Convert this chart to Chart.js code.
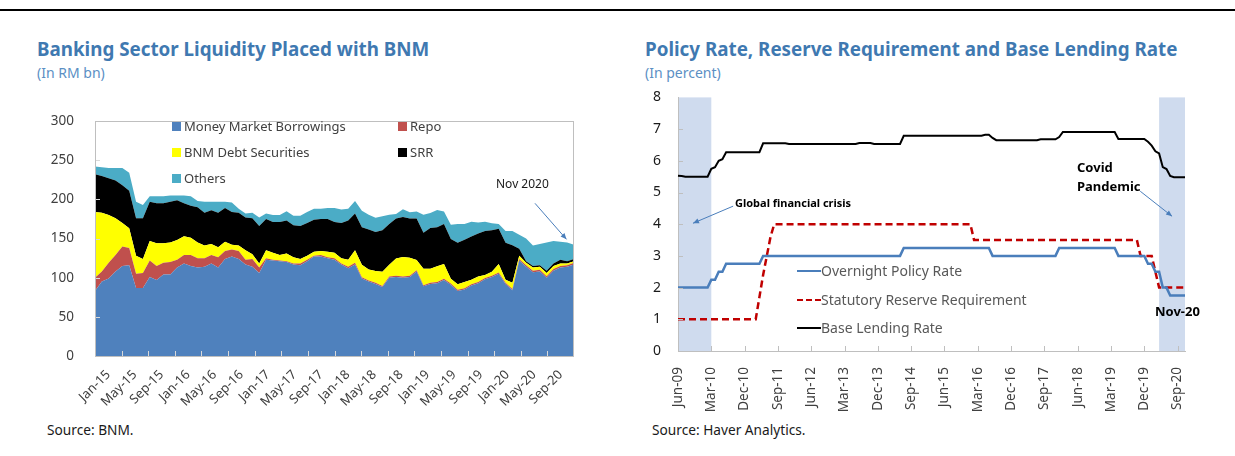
<!DOCTYPE html>
<html><head><meta charset="utf-8">
<script src="https://cdn.jsdelivr.net/npm/chart.js@4.4.1/dist/chart.umd.min.js"></script>
<style>
body{margin:0;width:1235px;height:456px;position:relative;background:#fff;font-family:'Noto Sans',sans-serif;overflow:hidden}
.abs{position:absolute;white-space:nowrap}
.title{font-weight:bold;font-size:18.8px;line-height:22px;color:#3f79b1}
.sub{font-size:14px;line-height:16px;color:#5b8fc4}
.src{font-size:13.7px;line-height:16px;color:#1a1a1a}
.lg{font-size:13px;line-height:16px;color:#404040}
.lgr{font-size:14px;line-height:18px;color:#595959}
.sq{position:absolute;width:9px;height:9px}
.ann{font-weight:bold;color:#000}
canvas{position:absolute}
</style></head>
<body>
<div class="abs" style="left:0;top:9px;width:1235px;height:2px;background:#000"></div>

<div class="abs title" style="left:37px;top:38px">Banking Sector Liquidity Placed with BNM</div>
<div class="abs sub" style="left:37px;top:65px">(In RM bn)</div>
<div class="abs title" style="left:645px;top:38px">Policy Rate, Reserve Requirement and Base Lending Rate</div>
<div class="abs sub" style="left:645px;top:65px">(In percent)</div>

<canvas id="cL" width="600" height="320" style="left:0;top:100px;width:600px;height:320px"></canvas>
<canvas id="cR" width="625" height="340" style="left:610px;top:80px;width:625px;height:340px"></canvas>

<!-- left legend -->
<div class="sq" style="left:172px;top:122px;background:#4f81bd"></div>
<div class="abs lg" style="left:184px;top:118px">Money Market Borrowings</div>
<div class="sq" style="left:398px;top:122px;background:#c0504d"></div>
<div class="abs lg" style="left:410px;top:118px">Repo</div>
<div class="sq" style="left:172px;top:148px;background:#ffff00"></div>
<div class="abs lg" style="left:184px;top:144px">BNM Debt Securities</div>
<div class="sq" style="left:398px;top:148px;background:#000"></div>
<div class="abs lg" style="left:410px;top:144px">SRR</div>
<div class="sq" style="left:172px;top:174px;background:#4bacc6"></div>
<div class="abs lg" style="left:184px;top:170px">Others</div>
<div class="abs" style="left:496px;top:176px;font-size:12px;line-height:16px;color:#1a1a1a">Nov 2020</div>

<!-- right legend -->
<div class="abs" style="left:797px;top:270px;width:24px;height:0;border-top:2.5px solid #4a7ebb"></div>
<div class="abs lgr" style="left:821px;top:262px">Overnight Policy Rate</div>
<div class="abs" style="left:797px;top:299px;width:24px;height:0;border-top:2.5px dashed #c00000"></div>
<div class="abs lgr" style="left:821px;top:291px">Statutory Reserve Requirement</div>
<div class="abs" style="left:797px;top:327px;width:24px;height:0;border-top:2.5px solid #000"></div>
<div class="abs lgr" style="left:821px;top:319px">Base Lending Rate</div>

<div class="abs ann" style="left:735px;top:195px;font-size:11px;line-height:16px">Global financial crisis</div>
<div class="abs ann" style="left:1077px;top:158px;font-size:13px;line-height:18px">Covid</div>
<div class="abs ann" style="left:1077px;top:177px;font-size:13px;line-height:18px">Pandemic</div>
<div class="abs ann" style="left:1155px;top:302px;font-size:13px;line-height:18px">Nov-20</div>

<div class="abs src" style="left:47px;top:422px">Source: BNM.</div>
<div class="abs src" style="left:652px;top:422px">Source: Haver Analytics.</div>

<script>
const MON = ['Jan','Feb','Mar','Apr','May','Jun','Jul','Aug','Sep','Oct','Nov','Dec'];
function monthLabels(m0, y0, m1, y1){
  const out=[]; let m=m0, y=y0;
  while(y<y1 || (y===y1 && m<=m1)){ out.push(MON[m]+'-'+String(y%100).padStart(2,'0')); m++; if(m>11){m=0;y++;} }
  return out;
}

// ---------- Left chart: Banking sector liquidity (RM bn), Jan-15 .. Nov-20 ----------
const liqMonths = monthLabels(0,2015,10,2020);
const liqTickLabels = ['Jan-15','May-15','Sep-15','Jan-16','May-16','Sep-16','Jan-17','May-17','Sep-17',
  'Jan-18','May-18','Sep-18','Jan-19','May-19','Sep-19','Jan-20','May-20','Sep-20'];
const moneyMarket = [83,95,99,108,115,116,87,87,101,97,104,104,113,118,115,113,114,118,113,124,127,124,117,
  114,106,123,122,121,120,117,116,121,127,127,125,123,117,112,117,99,95,92,88,100,101,100,101,
  108,89,92,93,97,91,83,85,90,93,98,101,105,92,84,122,114,107,108,100,109,113,114,117];
const repo = [17,13,20,21,25,22,18,19,21,18,15,16,10,11,14,12,11,11,13,10,9,10,6,
  10,7,2,1,1,1,1,2,2,1,2,1,2,1,2,2,1.5,1.5,1.5,1.5,1.5,1.5,1.5,1.5,
  1.5,1.5,1.5,1.5,1.5,1.5,1.5,1.5,1.5,1.5,1.5,1.5,1.5,1.5,1.5,2,2,2,2,2,2,2,2,2];
const bnmDebt = [84,75,61,47,30,25,23,18,25,29,25,25,25,24,22,20,16,14,13,12,6,7,12,
  6,5,10,9,7,10,8,6,5,5,5,7,7,7,9,16,16,14,15,18,15,22,25,23,
  13,21,18,20,19,6,7,8,6,7,4,5,11,4,8,4,3,4,4,4,4,3,2,2];
const srrBal = [48,47,47,48,48,48,48,52,50,51,51,52,51,42,41,45,42,43,44,43,42,42,42,
  46,48,40,39,42,42,41,42,42,41,41,42,39,45,50,47,48,51,50,53,52,51,51,50,
  53,46,52,50,51,51,53,54,55,55,56,53,45,47,48,9,2,2,2,3,3,5,3,3];
const others = [10,11,13,16,22,23,21,17,7,9,9,8,6,10,12,8,14,11,14,8,12,5,5,
  7,11,7,9,9,12,12,13,14,14,13,14,18,17,15,16,21,19,18,18,12,6,10,8,
  9,23,19,22,16,18,24,20,19,14,12,9,6,15,18,18,29,26,27,36,29,23,24,18];
const liqArrow = {from:[64.3,195], to:[68.9,149]};

// ---------- Right chart: rates (%), Jun-09 .. Nov-20 ----------
const rateMonths = monthLabels(5,2009,10,2020);
const rateTickLabels = ['Jun-09','Mar-10','Dec-10','Sep-11','Jun-12','Mar-13','Dec-13','Sep-14','Jun-15',
  'Mar-16','Dec-16','Sep-17','Jun-18','Mar-19','Dec-19','Sep-20'];
const opr = [2,2,2,2,2,2,2,2,2, 2.25,2.25, 2.5,2.5,
  2.75,2.75,2.75,2.75,2.75,2.75,2.75,2.75,2.75,2.75,
  3,3,3,3,3,3,3,3,3,3,3,3,3,3,3,3,3,3,3,3,3,3,3,3,3,3,3,3,3,3,3,3,3,3,3,3,3,3,
  3.25,3.25,3.25,3.25,3.25,3.25,3.25,3.25,3.25,3.25,3.25,3.25,3.25,3.25,3.25,3.25,3.25,3.25,3.25,3.25,3.25,3.25,3.25,3.25,
  3,3,3,3,3,3,3,3,3,3,3,3,3,3,3,3,3,3,
  3.25,3.25,3.25,3.25,3.25,3.25,3.25,3.25,3.25,3.25,3.25,3.25,3.25,3.25,3.25,3.25,
  3,3,3,3,3,3,3,3, 2.75,2.75, 2.5,2.5, 2,2, 1.75,1.75,1.75,1.75,1.75];
const srrRate = [1,1,1,1,1,1,1,1,1,1,1,1,1,1,1,1,1,1,1,1,1,1,
  1.7,2.4,3.0,3.6,
  4,4,4,4,4,4,4,4,4,4,4,4,4,4,4,4,4,4,4,4,4,4,4,4,4,4,4,4,4,4,4,4,4,4,4,4,4,4,4,4,4,4,4,4,4,4,4,4,4,4,4,4,4,4,
  3.5,3.5,3.5,3.5,3.5,3.5,3.5,3.5,3.5,3.5,3.5,3.5,3.5,3.5,3.5,3.5,3.5,3.5,3.5,3.5,3.5,3.5,3.5,3.5,3.5,3.5,3.5,3.5,3.5,3.5,
  3.5,3.5,3.5,3.5,3.5,3.5,3.5,3.5,3.5,3.5,3.5,3.5,3.5,3.5,3.5,
  3,3,3,3, 2.5, 2,2,2,2,2,2,2,2];
const blr = [5.53,5.52,5.5,5.5,5.5,5.5,5.5,5.5,5.5, 5.75,5.8,6.0,6.05,
  6.27,6.27,6.27,6.27,6.27,6.27,6.27,6.27,6.27,6.27,
  6.55,6.55,6.55,6.55,6.55,6.55,6.55,
  6.53,6.53,6.53,6.53,6.53,6.53,6.53,6.53,6.53,6.53,6.53,6.53,6.53,6.53,6.53,6.53,6.53,6.53,6.53,
  6.56,6.56,6.56,6.56,
  6.53,6.53,6.53,6.53,6.53,6.53,6.53,6.53,
  6.79,6.79,6.79,6.79,6.79,6.79,6.79,6.79,6.79,6.79,6.79,6.79,6.79,6.79,6.79,6.79,6.79,6.79,6.79,6.79,6.79,6.79,
  6.82,6.82,6.72,
  6.65,6.65,6.65,6.65,6.65,6.65,6.65,6.65,6.65,6.65,6.65,6.65,
  6.68,6.68,6.68,6.68,6.68, 6.75,
  6.91,6.91,6.91,6.91,6.91,6.91,6.91,6.91,6.91,6.91,6.91,6.91,6.91,6.91,6.91,
  6.69,6.69,6.69,6.69,6.69,6.69,6.69,6.69,
  6.6,6.48,6.3,6.23,5.8,5.74,5.52,5.48,5.48,5.48,5.48];
const rateBands = [['Jun-09','Mar-10'],['Apr-20','Nov-20']];
const rateArrows = [{from:[14.9,4.57], to:[4.05,4.03]}, {from:[124.9,5.04], to:[133.5,4.25]}];

Chart.defaults.font.family = "'Noto Sans', sans-serif";
Chart.defaults.color = '#404040';

function drawArrow(ctx,x1,y1,x2,y2,color){
  ctx.save(); ctx.strokeStyle=color; ctx.fillStyle=color; ctx.lineWidth=1;
  ctx.beginPath(); ctx.moveTo(x1,y1); ctx.lineTo(x2,y2); ctx.stroke();
  const a=Math.atan2(y2-y1,x2-x1), L=6, W=2.6;
  ctx.beginPath(); ctx.moveTo(x2,y2);
  ctx.lineTo(x2-L*Math.cos(a)+W*Math.sin(a), y2-L*Math.sin(a)-W*Math.cos(a));
  ctx.lineTo(x2-L*Math.cos(a)-W*Math.sin(a), y2-L*Math.sin(a)+W*Math.cos(a));
  ctx.closePath(); ctx.fill(); ctx.restore();
}

// ----- left chart -----
const areaStyle = {borderWidth:0, pointRadius:0, tension:0};
new Chart(document.getElementById('cL'), {
  type:'line',
  data:{labels:liqMonths, datasets:[
    Object.assign({label:'Money Market Borrowings', data:moneyMarket, backgroundColor:'#4f81bd', fill:'origin'}, areaStyle),
    Object.assign({label:'Repo', data:repo, backgroundColor:'#c0504d', fill:'-1'}, areaStyle),
    Object.assign({label:'BNM Debt Securities', data:bnmDebt, backgroundColor:'#ffff00', fill:'-1'}, areaStyle),
    Object.assign({label:'SRR', data:srrBal, backgroundColor:'#000000', fill:'-1'}, areaStyle),
    Object.assign({label:'Others', data:others, backgroundColor:'#4bacc6', fill:'-1'}, areaStyle)
  ]},
  options:{
    responsive:false, animation:false, devicePixelRatio:1,
    layout:{padding:{top:16,right:26,left:0,bottom:0}},
    plugins:{legend:{display:false}, tooltip:{enabled:false}},
    scales:{
      x:{type:'category', display:false, offset:false},
      x2:{type:'category', labels:liqTickLabels, position:'bottom', offset:true,
        grid:{display:false}, border:{display:false},
        ticks:{autoSkip:false, maxRotation:45, minRotation:45, padding:3, color:'#404040', font:{size:13}},
        afterFit(s){ s.height=64; }},
      y:{stacked:true, min:0, max:300, grid:{display:false}, border:{display:false},
        ticks:{stepSize:50, padding:13, color:'#404040', font:{size:13.5}},
        afterFit(s){ s.width=95; }}
    }
  },
  plugins:[{
    id:'liqDecor',
    afterDatasetsDraw(chart){
      const {ctx, chartArea:a, scales} = chart;
      const n = liqTickLabels.length, w = (a.right-a.left)/n;
      ctx.save();
      ctx.strokeStyle='#d9d9d9'; ctx.lineWidth=1; ctx.beginPath();
      for(let k=1;k<n;k++){ const x=Math.round(a.left+k*w)+0.5; ctx.moveTo(x,a.bottom); ctx.lineTo(x,a.bottom-5); }
      scales.y.ticks.forEach(t=>{ if(t.value>0 && t.value<300){ const y=Math.round(scales.y.getPixelForValue(t.value))+0.5; ctx.moveTo(a.left,y); ctx.lineTo(a.left+5,y);} });
      ctx.stroke();
      ctx.strokeStyle='#bfbfbf';
      ctx.strokeRect(Math.round(a.left)+0.5, Math.round(a.top)+0.5, Math.round(a.right-a.left)-1, Math.round(a.bottom-a.top));
      ctx.restore();
      const X=scales.x, Y=scales.y;
      drawArrow(ctx, X.getPixelForValue(liqArrow.from[0]), Y.getPixelForValue(liqArrow.from[1]),
        X.getPixelForValue(liqArrow.to[0]), Y.getPixelForValue(liqArrow.to[1]), '#4a7ebb');
    }
  }]
});

// ----- right chart -----
const lineStyle = {pointRadius:0, tension:0, fill:false};
new Chart(document.getElementById('cR'), {
  type:'line',
  data:{labels:rateMonths, datasets:[
    Object.assign({label:'Overnight Policy Rate', data:opr, borderColor:'#4a7ebb', borderWidth:2.5}, lineStyle),
    Object.assign({label:'Statutory Reserve Requirement', data:srrRate, borderColor:'#c00000', borderWidth:2.5, borderDash:[7,4]}, lineStyle),
    Object.assign({label:'Base Lending Rate', data:blr, borderColor:'#000000', borderWidth:2}, lineStyle)
  ]},
  options:{
    responsive:false, animation:false, devicePixelRatio:1,
    layout:{padding:{top:12,right:50,left:0,bottom:0}},
    plugins:{legend:{display:false}, tooltip:{enabled:false}},
    scales:{
      x:{type:'category', offset:false, grid:{display:false}, border:{color:'#bfbfbf', width:1},
        ticks:{autoSkip:false, maxRotation:90, minRotation:90, padding:8, color:'#404040', font:{size:13.5},
          callback(v,i){ const l=rateMonths[i]; return rateTickLabels.includes(l) ? l : null; }},
        afterFit(s){ s.height=69; }},
      y:{min:0, max:8, grid:{display:false}, border:{color:'#bfbfbf', width:1},
        ticks:{stepSize:1, padding:9, color:'#1a1a1a', font:{size:14}},
        afterFit(s){ s.width=68; }}
    }
  },
  plugins:[{
    id:'rateDecor',
    beforeDraw(chart){
      const {ctx, chartArea:a, scales} = chart;
      ctx.save(); ctx.fillStyle='#cfdbee';
      rateBands.forEach(([s,e])=>{
        const x1=scales.x.getPixelForValue(rateMonths.indexOf(s)), x2=scales.x.getPixelForValue(rateMonths.indexOf(e));
        ctx.fillRect(x1, a.top, x2-x1, a.bottom-a.top+1);
      });
      ctx.restore();
    },
    afterDatasetsDraw(chart){
      const {ctx, chartArea:a, scales} = chart;
      ctx.save(); ctx.strokeStyle='#bfbfbf'; ctx.lineWidth=1; ctx.beginPath();
      rateTickLabels.slice(1).forEach(l=>{ const x=Math.round(scales.x.getPixelForValue(rateMonths.indexOf(l)))+0.5; ctx.moveTo(x,a.bottom); ctx.lineTo(x,a.bottom-5); });
      scales.y.ticks.forEach(t=>{ if(t.value>0 && t.value<8){ const y=Math.round(scales.y.getPixelForValue(t.value))+0.5; ctx.moveTo(a.left,y); ctx.lineTo(a.left+5,y);} });
      ctx.stroke(); ctx.restore();
      rateArrows.forEach(r=>drawArrow(ctx, scales.x.getPixelForValue(r.from[0]), scales.y.getPixelForValue(r.from[1]),
        scales.x.getPixelForValue(r.to[0]), scales.y.getPixelForValue(r.to[1]), '#4a7ebb'));
    }
  }]
});
</script>
</body></html>
